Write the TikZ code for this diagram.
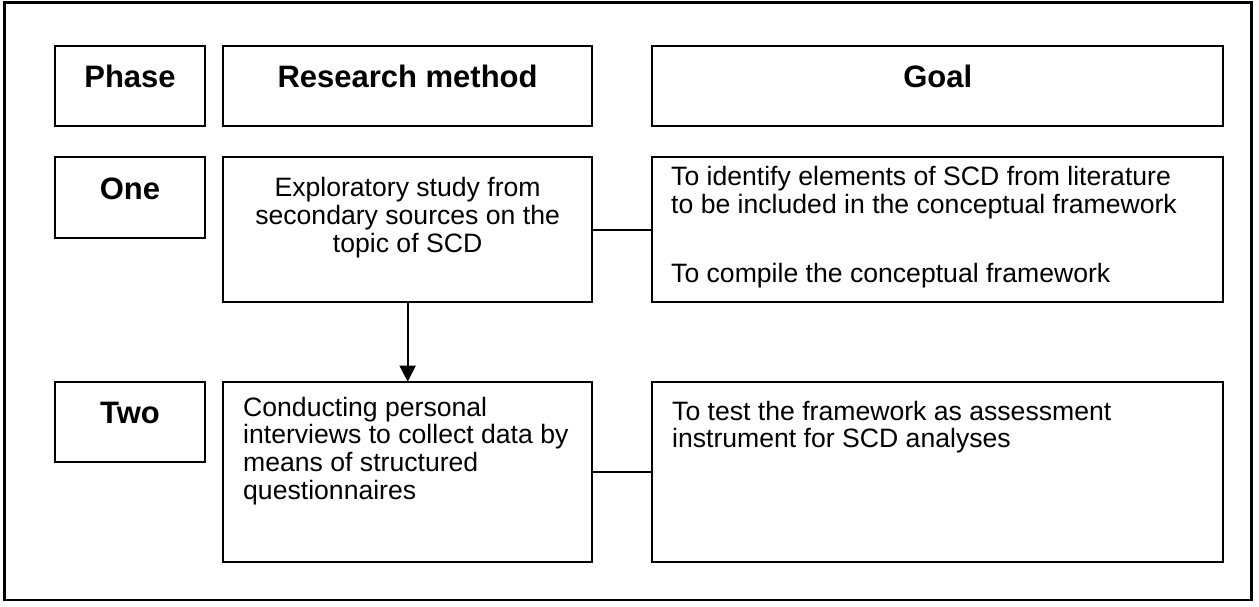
\documentclass[tikz,border=0pt]{standalone}
\usepackage{fontspec}
\setmainfont{Liberation Sans}
\usetikzlibrary{arrows.meta}

\begin{document}
\begin{tikzpicture}[x=1pt, y=-1pt,
  cell/.style={draw, line width=1.7pt, inner sep=0pt, outer sep=0pt, anchor=north west},
  head/.style={font=\fontsize{31}{36}\selectfont\bfseries, inner sep=0pt, anchor=base},
  body/.style={font=\fontsize{26.6}{27.6}\selectfont, inner sep=0pt},
  link/.style={line width=1.7pt},
]
\useasboundingbox (0,0) rectangle (1259,607);

% outer frame
\draw[line width=2.7pt] (4.7,2.8) rectangle (1251.3,600);

% header row
\node[cell, minimum width=150pt, minimum height=80pt] (phase) at (55,45.7) {};
\node[cell, minimum width=368.5pt, minimum height=80pt] (method) at (223.3,45.7) {};
\node[cell, minimum width=571pt, minimum height=80pt] (goal) at (652.3,45.7) {};
\node[head] (phaseT) at (130,88) {Phase};
\node[head] (methodT) at (407.6,88) {Research method};
\node[head] (goalT) at (937.8,88) {Goal};

% phase one (multi-line texts are placed by the baseline of their last line)
\node[cell, minimum width=150pt, minimum height=81pt] (one) at (55,157.3) {};
\node[cell, minimum width=368.7pt, minimum height=145pt] (explore) at (223.3,157.3) {};
\node[cell, minimum width=571pt, minimum height=145pt] (goalone) at (652.3,157.3) {};
\node[head] (oneT) at (130,200) {One};
\node[body, align=center, anchor=base] (exploreT) at (407.6,252)
  {Exploratory study from\\secondary sources on the\\topic of SCD};
\node[body, align=left, anchor=base west] (goaloneT) at (671,282)
  {To identify elements of SCD from literature\\to be included in the conceptual framework\\[41.4pt]To compile the conceptual framework};

% phase two
\node[cell, minimum width=150pt, minimum height=80pt] (two) at (55,381.7) {};
\node[cell, minimum width=368.7pt, minimum height=180.5pt] (conduct) at (223.3,381.7) {};
\node[cell, minimum width=571pt, minimum height=180.5pt] (goaltwo) at (652.3,381.7) {};
\node[head] (twoT) at (130,423) {Two};
\node[body, align=left, anchor=base west] (conductT) at (243,499)
  {Conducting personal\\interviews to collect data by\\means of structured\\questionnaires};
\node[body, align=left, anchor=base west] (goaltwoT) at (672,447.6)
  {To test the framework as assessment\\instrument for SCD analyses};

% connectors
\draw[link] (explore.east) -- (goalone.west);
\draw[link] (conduct.east) -- (goaltwo.west);
\draw[link, -{Triangle[length=16pt, width=16pt]}] (explore.south) -- (conduct.north);
\end{tikzpicture}
\end{document}
